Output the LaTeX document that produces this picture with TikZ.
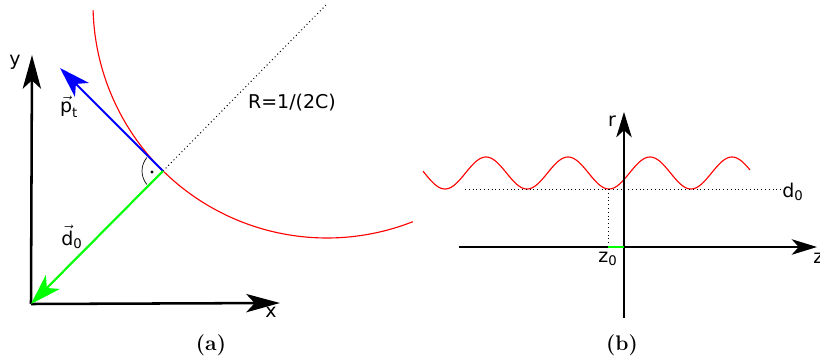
\documentclass[tikz,border=0pt]{standalone}
\usepackage{amsmath}
\usepackage{fontspec}
\newfontfamily\lblfont{DejaVu Sans}
\usetikzlibrary{arrows.meta}

\begin{document}
\begin{tikzpicture}[x=0.025cm, y=-0.025cm,
        axis/.style={line width=1.8pt, -{Stealth[length=24pt, width=13pt, inset=6pt]}},
        axisb/.style={line width=1.4pt, -{Stealth[length=18pt, width=11pt, inset=5pt]}},
        vecarrow/.style={line width=1.5pt, -{Stealth[length=22pt, width=14pt, inset=6pt]}},
        curve/.style={draw=red, line width=0.8pt},
        guide/.style={dotted, line width=0.7pt},
        lbl/.style={font=\lblfont\fontsize{13.5}{15}\selectfont, inner sep=0pt},
        subcap/.style={font=\fontsize{15}{18}\selectfont\bfseries, inner sep=0pt}
    ]
        \useasboundingbox (0,0) rectangle (820,360);

        % Panel (a): points
        \coordinate (O) at (31,304);
        \coordinate (ytip) at (32,55);
        \coordinate (xtip) at (280,303);
        \coordinate (P) at (163,171);
        \coordinate (ptip) at (60,68);
        \coordinate (C) at (327,4);
        \coordinate (rdot) at (152,172);

        % Circle of radius R
        \draw[curve] (C) ++(178.5:234) arc[start angle=178.5, end angle=68.5, radius=234];
        \draw[guide] (P) -- (C);

        % Axes
        \draw[axis] (O) -- (ytip);
        \draw[axis] (O) -- (xtip);
        \node[lbl] (ylbl) at (15,62) {y};
        \node[lbl] (xlbl) at (271,312) {x};

        % Vectors
        \draw[vecarrow, draw=blue, fill=blue] (P) -- (ptip);
        \draw[vecarrow, draw=green, fill=green] (P) -- (O);
        \draw[line width=0.5pt] (P) ++(220:21) arc[start angle=220, end angle=140, radius=21];
        \fill (rdot) circle[radius=1.1pt];

        \node[lbl] (plbl) at (69,107) {$\vec{\text{p}}_{\text{t}}$};
        \node[lbl] (dlbl) at (72,237) {$\vec{\text{d}}_{\text{0}}$};
        \node[lbl] (Rlbl) at (292,103) {R=1/(2C)};
        \node[subcap] (capa) at (211,345) {(a)};

        % Panel (b): points
        \coordinate (rbot) at (624,318);
        \coordinate (rtip) at (624,112);
        \coordinate (zleft) at (459,247);
        \coordinate (ztip) at (817,247);
        \coordinate (zero) at (608,247);
        \coordinate (orig) at (624,247);
        \coordinate (dmin) at (608,189);
        \coordinate (dleft) at (465,189);
        \coordinate (dright) at (782,189);

        % Oscillating track
        \draw[curve] plot[domain=423:750, samples=200] (\x, {173+16*cos(4.3902*(\x-445))});
        \draw[guide] (dleft) -- (dright);
        \draw[guide] (dmin) -- (zero);

        % Axes
        \draw[axisb] (rbot) -- (rtip);
        \draw[axisb] (zleft) -- (ztip);
        \draw[green, line width=2pt] (zero) -- (orig);

        \node[lbl] (rlbl) at (612,121) {r};
        \node[lbl, anchor=west] (zlbl) at (813,258) {z};
        \node[lbl] (d0lbl) at (793,192) {d$_{\text{0}}$};
        \node[lbl] (z0lbl) at (608,259) {z$_{\text{0}}$};
        \node[subcap] (capb) at (622,345) {(b)};
\end{tikzpicture}
\end{document}
